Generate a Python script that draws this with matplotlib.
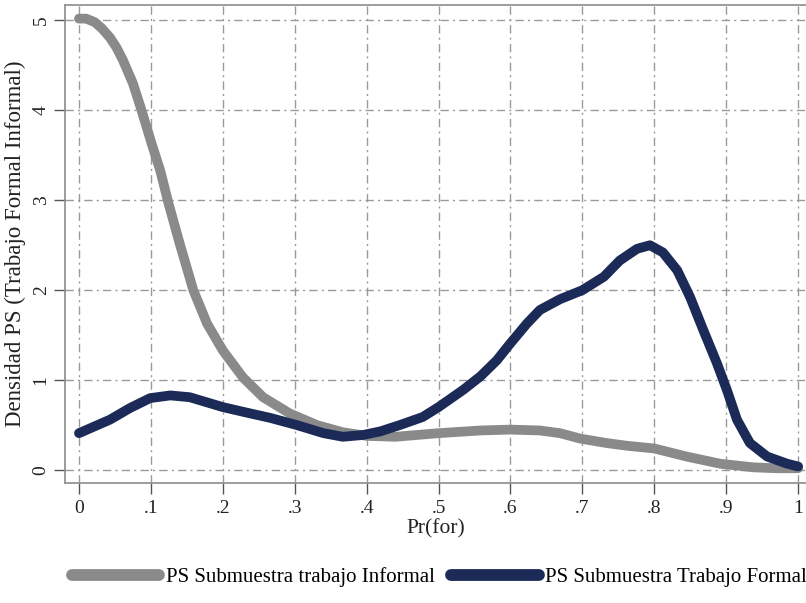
import numpy as np
import matplotlib
matplotlib.use("Agg")
import matplotlib.pyplot as plt

plt.rcParams['font.family'] = ['Liberation Serif', 'DejaVu Serif']

# Kernel density estimates of the propensity score, by subsample
x_informal = [0.000, 0.010, 0.022, 0.032, 0.043, 0.052, 0.061, 0.075, 0.087,
              0.101, 0.113, 0.124, 0.140, 0.159, 0.178, 0.200, 0.228, 0.256,
              0.293, 0.331, 0.367, 0.400, 0.440, 0.500, 0.558, 0.600, 0.641,
              0.669, 0.697, 0.734, 0.762, 0.800, 0.845, 0.892, 0.938, 0.970,
              1.000]
y_informal = [5.02, 5.02, 4.98, 4.91, 4.81, 4.70, 4.56, 4.30, 4.00,
              3.63, 3.33, 2.98, 2.52, 2.00, 1.63, 1.33, 1.03, 0.81,
              0.63, 0.50, 0.42, 0.38, 0.37, 0.41, 0.44, 0.45, 0.44,
              0.41, 0.35, 0.30, 0.27, 0.24, 0.15, 0.07, 0.03, 0.02,
              0.02]

x_formal = [0.000, 0.020, 0.043, 0.071, 0.099, 0.127, 0.154, 0.200, 0.238,
            0.266, 0.303, 0.340, 0.367, 0.395, 0.419, 0.446, 0.478, 0.500,
            0.534, 0.558, 0.581, 0.600, 0.623, 0.641, 0.669, 0.700, 0.730,
            0.752, 0.776, 0.794, 0.812, 0.832, 0.850, 0.868, 0.887, 0.901,
            0.915, 0.933, 0.957, 0.985, 1.000]
y_formal = [0.41, 0.48, 0.56, 0.69, 0.80, 0.83, 0.81, 0.70, 0.63,
            0.58, 0.50, 0.41, 0.37, 0.39, 0.43, 0.50, 0.59, 0.70,
            0.89, 1.04, 1.22, 1.41, 1.63, 1.78, 1.90, 2.00, 2.15,
            2.33, 2.46, 2.50, 2.42, 2.22, 1.92, 1.56, 1.19, 0.89,
            0.56, 0.30, 0.15, 0.07, 0.04]

x_ticks = [0, 0.1, 0.2, 0.3, 0.4, 0.5, 0.6, 0.7, 0.8, 0.9, 1.0]
x_ticklabels = ['0', '.1', '.2', '.3', '.4', '.5', '.6', '.7', '.8', '.9', '1']
y_ticks = [0, 1, 2, 3, 4, 5]

label_informal = 'PS Submuestra trabajo Informal'
label_formal = 'PS Submuestra Trabajo Formal'

c_informal = '#8a8a8a'
c_formal = '#1b2a57'
c_frame = '#8c8c8c'

fig = plt.figure(figsize=(8.06, 6.03), dpi=100)
ax = fig.add_axes([0.0806, 0.199, 0.9194, 0.7925])

ax.plot(x_informal, y_informal, color=c_informal, lw=7,
        solid_capstyle='round', solid_joinstyle='round',
        label=label_informal, zorder=3)
ax.plot(x_formal, y_formal, color=c_formal, lw=7,
        solid_capstyle='round', solid_joinstyle='round',
        label=label_formal, zorder=4)

ax.set_xlim(-0.0195, 1.011)
ax.set_ylim(-0.144, 5.17)

ax.set_xticks(x_ticks)
ax.set_xticklabels(x_ticklabels)
ax.set_yticks(y_ticks)
ax.set_yticklabels([str(v) for v in y_ticks], rotation=90, va='center')

ax.grid(True, color='#9a9a9a', lw=1.0, linestyle=(0, (6, 3, 1.5, 3)), zorder=1)

for side in ['left', 'top', 'bottom']:
    ax.spines[side].set_color(c_frame)
    ax.spines[side].set_linewidth(1.2)
ax.spines['right'].set_visible(False)

ax.tick_params(axis='both', direction='out', length=8, width=1.0,
               color='#555555', labelsize=14, labelcolor='#222222')
ax.tick_params(axis='x', pad=4)
ax.tick_params(axis='y', pad=3)

ax.set_xlabel('Pr(for)', fontsize=15.5, color='#222222', labelpad=2)
ax.set_ylabel('Densidad PS (Trabajo Formal Informal)', fontsize=16.5,
              color='#222222', labelpad=5)

leg = fig.legend(loc='lower center', bbox_to_anchor=(0.545, -0.005), ncol=2,
                 frameon=False, fontsize=15, handlelength=4.2,
                 handletextpad=0.3, columnspacing=0.8)
for line in leg.get_lines():
    line.set_linewidth(8.5)

fig.savefig('out.png', dpi=100)
